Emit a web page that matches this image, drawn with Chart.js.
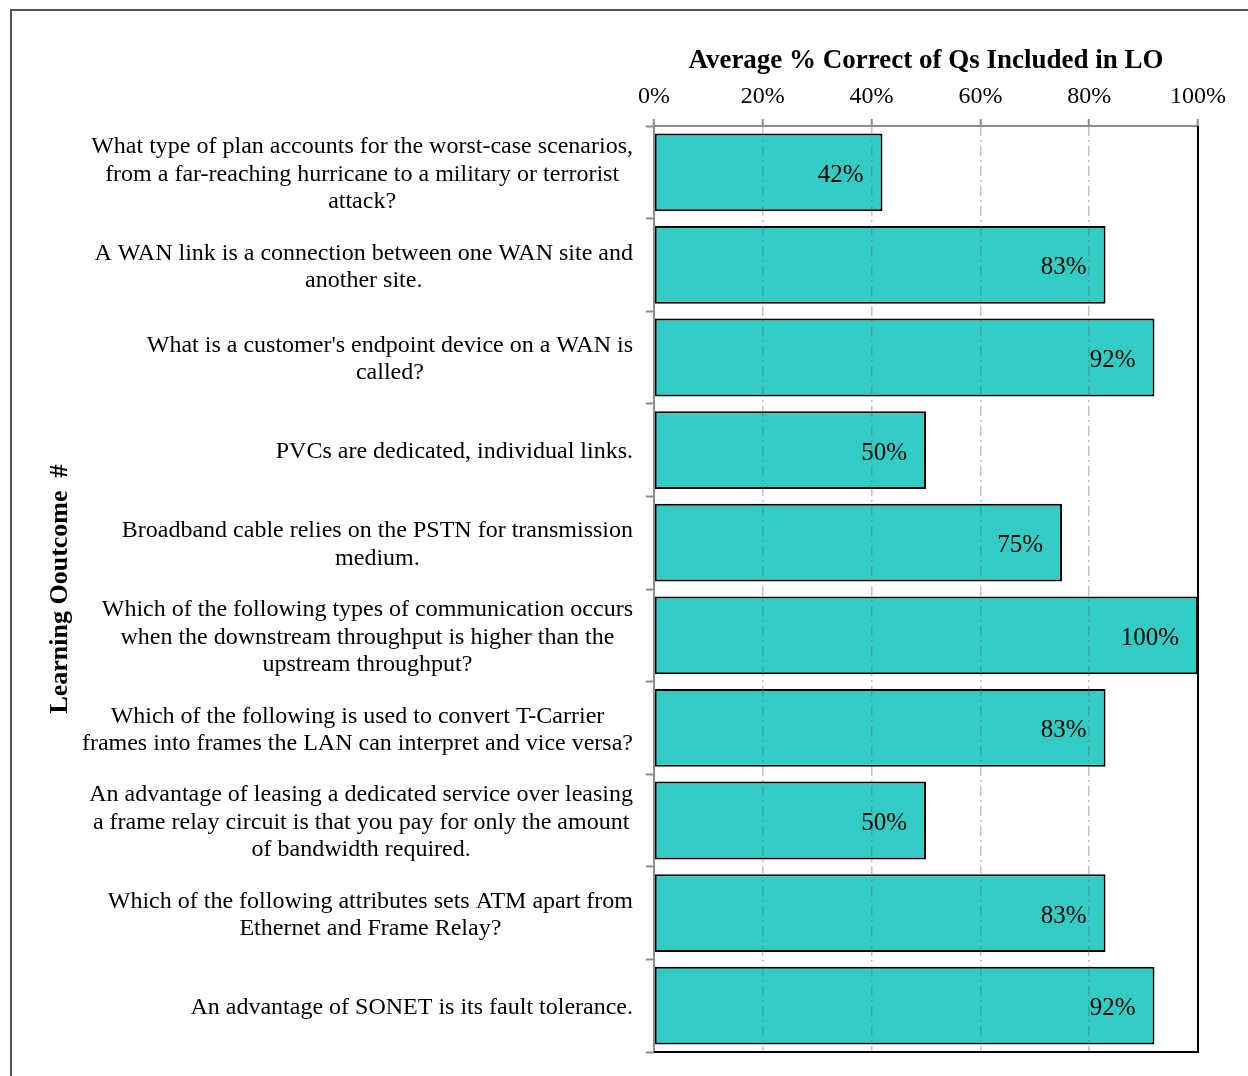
<!DOCTYPE html>
<html>
<head>
<meta charset="utf-8">
<script src="https://cdn.jsdelivr.net/npm/chart.js@4/dist/chart.umd.min.js"></script>
<style>
  body { margin: 0; background: #fff; }
  #wrap { position: relative; width: 1248px; height: 1076px; }
  #frame {
    position: absolute; left: 10px; top: 9px; right: 0; bottom: 0;
    border-left: 2px solid #555; border-top: 2px solid #555;
  }
  #chart { position: absolute; left: 0; top: 0; }
</style>
</head>
<body>
<div id="wrap">
  <div id="frame"></div>
  <canvas id="chart" width="1248" height="1076"></canvas>
</div>
<script>
// Question text, one array of wrapped lines per bar
const questions = [
  ["What type of plan accounts for the worst-case scenarios,", "from a far-reaching hurricane to a military or terrorist", "attack?"],
  ["A WAN link is a connection between one WAN site and", "another site."],
  ["What is a customer's endpoint device on a WAN is", "called?"],
  ["PVCs are dedicated, individual links."],
  ["Broadband cable relies on the PSTN for transmission", "medium."],
  ["Which of the following types of communication occurs", "when the downstream throughput is higher than the", "upstream throughput?"],
  ["Which of the following is used to convert T-Carrier", "frames into frames the LAN can interpret and vice versa?"],
  ["An advantage of leasing a dedicated service over leasing", "a frame relay circuit is that you pay for only the amount", "of bandwidth required."],
  ["Which of the following attributes sets ATM apart from", "Ethernet and Frame Relay?"],
  ["An advantage of SONET is its fault tolerance."]
];
const pctCorrect = [42, 83, 92, 50, 75, 100, 83, 50, 83, 92];
const xTicks = [0, 20, 40, 60, 80, 100];

const SERIF = "'Liberation Serif', 'Times New Roman', serif";

// Wrapped question text, lines centred as a block right-aligned to the plot
const questionLabels = {
  id: "questionLabels",
  afterDraw(chart) {
    const { ctx, chartArea } = chart;
    const yScale = chart.scales.y;
    const lineH = 27.3;
    ctx.save();
    ctx.font = "24px " + SERIF;
    ctx.fillStyle = "#000";
    ctx.textAlign = "center";
    ctx.textBaseline = "middle";
    questions.forEach((lines, i) => {
      const cy = yScale.getPixelForValue(i) + 2;
      const maxW = Math.max(...lines.map((l) => ctx.measureText(l).width));
      const cx = chartArea.left - 21 - maxW / 2;
      const y0 = cy - ((lines.length - 1) / 2) * lineH;
      lines.forEach((l, j) => ctx.fillText(l, cx, y0 + j * lineH));
    });
    ctx.restore();
  },
};

// Percent value printed inside the end of each bar
const valueLabels = {
  id: "valueLabels",
  afterDatasetsDraw(chart) {
    const { ctx } = chart;
    const meta = chart.getDatasetMeta(0);
    ctx.save();
    ctx.font = "25px " + SERIF;
    ctx.fillStyle = "#000";
    ctx.textAlign = "right";
    ctx.textBaseline = "middle";
    meta.data.forEach((bar, i) => {
      ctx.fillText(pctCorrect[i] + "%", bar.x - 19, bar.y + 3);
    });
    ctx.restore();
  },
};

// Plot frame: grey on the axis sides, black on the far sides
const plotFrame = {
  id: "plotFrame",
  afterDraw(chart) {
    const { ctx, chartArea: a } = chart;
    ctx.save();
    ctx.lineWidth = 2;
    ctx.strokeStyle = "#8c8c8c";
    ctx.beginPath();
    ctx.moveTo(a.left, a.bottom);
    ctx.lineTo(a.left, a.top);
    ctx.lineTo(a.right, a.top);
    ctx.stroke();
    ctx.strokeStyle = "#000";
    ctx.beginPath();
    ctx.moveTo(a.right, a.top);
    ctx.lineTo(a.right, a.bottom);
    ctx.lineTo(a.left, a.bottom);
    ctx.stroke();
    ctx.restore();
  },
};

new Chart(document.getElementById("chart"), {
  type: "bar",
  data: {
    labels: questions.map((q) => q.join(" ")),
    datasets: [
      {
        data: pctCorrect,
        backgroundColor: "#33CCC4",
        borderColor: "#000",
        borderWidth: 2,
        borderSkipped: false,
        barPercentage: 0.84,
        categoryPercentage: 1,
      },
    ],
  },
  options: {
    indexAxis: "y",
    responsive: false,
    animation: false,
    layout: { padding: { left: 36, top: 30, right: 50, bottom: 24 } },
    plugins: {
      legend: { display: false },
      tooltip: { enabled: false },
    },
    scales: {
      x: {
        position: "top",
        min: 0,
        max: 100,
        afterFit(scale) {
          scale.height = 96;
        },
        afterBuildTicks(scale) {
          scale.ticks = xTicks.map((v) => ({ value: v }));
        },
        ticks: {
          color: "#000",
          font: { family: SERIF, size: 24 },
          padding: 8,
          callback: (v) => v + "%",
        },
        grid: {
          z: 1,
          color: (c) =>
            c.tick && (c.tick.value === 0 || c.tick.value === 100)
              ? "rgba(0,0,0,0)"
              : "rgba(80,100,100,0.38)",
          lineWidth: 1.5,
          tickColor: "#8c8c8c",
          tickLength: 7,
          tickWidth: 2,
        },
        border: { display: false, dash: [10, 4, 2, 4] },
        title: {
          display: true,
          text: "Average % Correct of Qs Included in LO",
          color: "#000",
          font: { family: SERIF, size: 27, weight: "bold" },
          padding: { top: 15, bottom: 0 },
        },
      },
      y: {
        afterFit(scale) {
          scale.width = 618;
        },
        ticks: { display: false },
        grid: {
          drawOnChartArea: false,
          drawTicks: true,
          tickLength: 8,
          tickColor: "#8c8c8c",
          tickWidth: 2,
        },
        border: { display: false },
        title: {
          display: true,
          text: "Learning Ooutcome  #",
          color: "#000",
          font: { family: SERIF, size: 26, weight: "bold" },
          padding: { top: 9, bottom: 0 },
        },
      },
    },
  },
  plugins: [questionLabels, valueLabels, plotFrame],
});
</script>
</body>
</html>
